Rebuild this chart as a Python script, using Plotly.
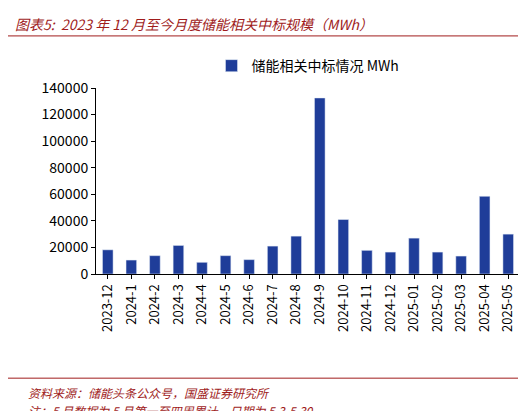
import plotly.graph_objects as go

months = ["2023-12", "2024-1", "2024-2", "2024-3", "2024-4", "2024-5", "2024-6", "2024-7",
          "2024-8", "2024-9", "2024-10", "2024-11", "2024-12", "2025-01", "2025-02",
          "2025-03", "2025-04", "2025-05"]
mwh = [18200, 10500, 13800, 21500, 8800, 13800, 10800, 21000, 28500, 132500,
       41000, 17800, 16500, 27000, 16500, 13500, 58500, 30000]

title_txt = "图表5:  2023 年 12 月至今月度储能相关中标规模（MWh）"
note1 = "资料来源：储能头条公众号，国盛证券研究所"
note2 = "注：5 月数据为 5 月第一至四周累计，日期为 5.3-5.30"

fig = go.Figure(go.Bar(x=months, y=mwh, name="储能相关中标情况 MWh",
                       marker_color="#1f3d99", width=0.45))

red = "#a01c1c"
fig.update_layout(
    width=526, height=411, plot_bgcolor="white", paper_bgcolor="white",
    margin=dict(l=88, r=14, t=80, b=145),
    font=dict(family="Noto Sans CJK SC, Arial", size=13, color="black"),
    showlegend=True,
    legend=dict(orientation="h", x=0.5, xanchor="center", y=1.118, yanchor="middle",
                font=dict(size=14)),
    xaxis=dict(type="category", tickangle=-90, showline=True, linecolor="black",
               ticks="outside", ticklen=4, tickcolor="black", tickfont=dict(size=13)),
    yaxis=dict(range=[0, 140000], dtick=20000, showgrid=False, showline=True,
               linecolor="black", ticks="outside", ticklen=4, tickcolor="black",
               tickformat="d", tickfont=dict(size=14)),
    annotations=[
        dict(text="<i>" + title_txt + "</i>", x=-0.196, y=1.41, xref="paper", yref="paper",
             xanchor="left", yanchor="top", showarrow=False, font=dict(size=14, color=red)),
        dict(text="<i>" + note1 + "</i>", x=-0.165, y=-0.58, xref="paper", yref="paper",
             xanchor="left", yanchor="top", showarrow=False, font=dict(size=12, color=red)),
        dict(text="<i>" + note2 + "</i>", x=-0.165, y=-0.675, xref="paper", yref="paper",
             xanchor="left", yanchor="top", showarrow=False, font=dict(size=12, color=red)),
    ],
    shapes=[
        dict(type="line", xref="paper", yref="paper", x0=-0.21, x1=1.03, y0=1.28, y1=1.28,
             line=dict(color=red, width=1)),
        dict(type="line", xref="paper", yref="paper", x0=-0.21, x1=1.03, y0=-0.56, y1=-0.56,
             line=dict(color=red, width=1)),
    ],
)
fig.write_html("out.html")
